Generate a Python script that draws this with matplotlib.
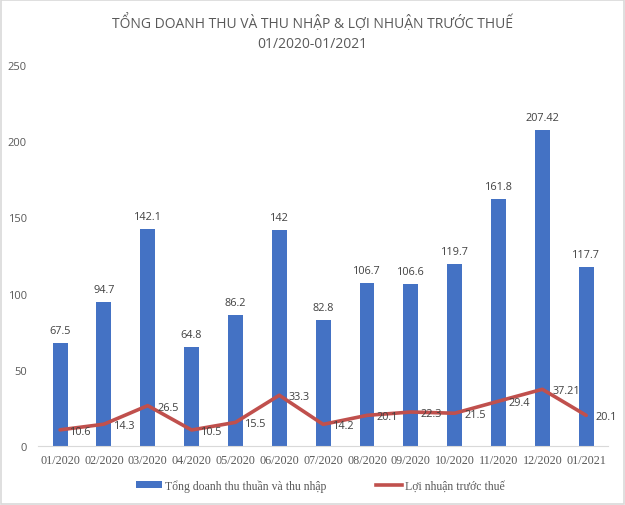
import matplotlib
matplotlib.use("Agg")
import matplotlib.pyplot as plt
import numpy as np
from matplotlib.patches import Rectangle, Patch
from matplotlib.lines import Line2D

months = ["01/2020", "02/2020", "03/2020", "04/2020", "05/2020", "06/2020", "07/2020",
          "08/2020", "09/2020", "10/2020", "11/2020", "12/2020", "01/2021"]
revenue = [67.5, 94.7, 142.1, 64.8, 86.2, 142, 82.8, 106.7, 106.6, 119.7, 161.8, 207.42, 117.7]
revenue_labels = ["67.5", "94.7", "142.1", "64.8", "86.2", "142", "82.8", "106.7", "106.6",
                  "119.7", "161.8", "207.42", "117.7"]
profit = [10.6, 14.3, 26.5, 10.5, 15.5, 33.3, 14.2, 20.1, 22.3, 21.5, 29.4, 37.21, 20.1]
profit_labels = ["10.6", "14.3", "26.5", "10.5", "15.5", "33.3", "14.2", "20.1", "22.3",
                 "21.5", "29.4", "37.21", "20.1"]
yticks = [0, 50, 100, 150, 200, 250]

title = "TỔNG DOANH THU VÀ THU NHẬP & LỢI NHUẬN TRƯỚC THUẾ\n01/2020-01/2021"
bar_name = "Tổng doanh thu thuần và thu nhập"
line_name = "Lợi nhuận trước thuế"

BLUE = "#4472C4"
RED = "#C0504D"
GRAY = "#595959"

fig = plt.figure(figsize=(6.25, 5.06), dpi=100)
fig.patch.set_facecolor("white")
fig.patches.append(Rectangle((0.002, 0.002), 0.996, 0.996, transform=fig.transFigure,
                             fill=False, edgecolor="#D9D9D9", linewidth=1.2))

ax = fig.add_axes([0.061, 0.1166, 0.912, 0.753])
x = np.arange(len(months))
ax.bar(x, revenue, width=0.34, color=BLUE, zorder=2)
ax.plot(x, profit, color=RED, linewidth=2.6, zorder=3, solid_capstyle="round")

for xi, v, lab in zip(x, revenue, revenue_labels):
    ax.annotate(lab, (xi, v), xytext=(0, 5), textcoords="offset points",
                ha="center", va="bottom", fontsize=7.8, color="#404040",
                family="Open Sans")
for xi, v, lab in zip(x, profit, profit_labels):
    ax.annotate(lab, (xi, v), xytext=(7, -1), textcoords="offset points",
                ha="left", va="center", fontsize=7.8, color="#404040",
                family="Open Sans", zorder=4)

ax.set_xlim(-0.5, len(months) - 0.5)
ax.set_ylim(0, 250)
ax.set_yticks(yticks)
ax.set_yticklabels([str(t) for t in yticks], family="Open Sans", fontsize=8, color=GRAY)
ax.set_xticks(x)
ax.set_xticklabels(months, family="Liberation Serif", fontsize=8.7, color=GRAY)
ax.tick_params(axis="both", length=0)
ax.tick_params(axis="y", pad=8)
ax.tick_params(axis="x", pad=6)
for s in ["top", "right", "left"]:
    ax.spines[s].set_visible(False)
ax.spines["bottom"].set_color("#D9D9D9")
ax.set_facecolor("white")

fig.text(0.5, 0.935, title, ha="center", va="center", fontsize=10, color=GRAY,
         family="Open Sans", linespacing=1.45)

handles = [Patch(facecolor=BLUE, label=bar_name), Line2D([0], [0], color=RED, lw=2.6, label=line_name)]
fig.legend(handles=handles, loc="center", bbox_to_anchor=(0.513, 0.038), ncol=2, frameon=False,
           prop={"family": "Liberation Serif", "size": 8.5}, handlelength=2.2, handleheight=0.55,
           columnspacing=4.2, handletextpad=0.25, labelcolor=GRAY)

fig.savefig("out.png", dpi=100)
